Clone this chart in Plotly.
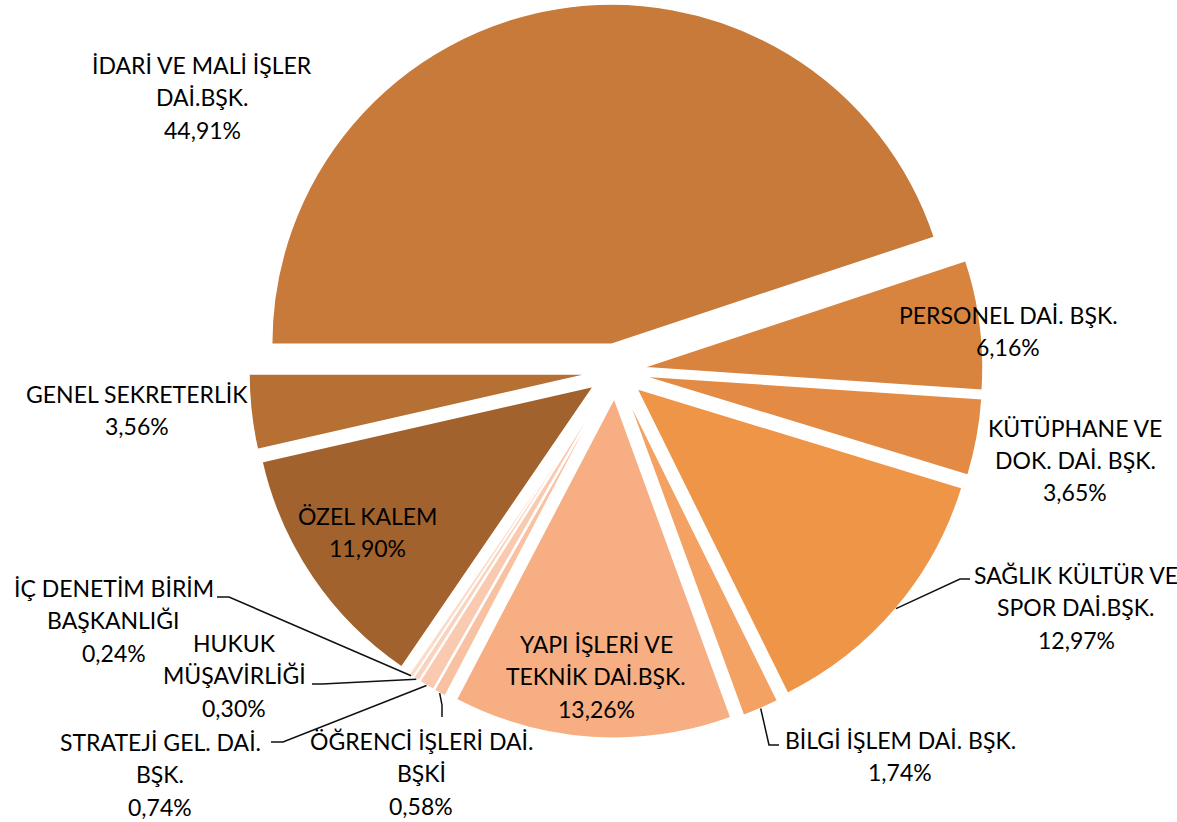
import math
import plotly.graph_objects as go

# ---------------- data ----------------
labels = [
    "İDARİ VE MALİ İŞLER DAİ.BŞK.",
    "PERSONEL DAİ. BŞK.",
    "KÜTÜPHANE VE DOK. DAİ. BŞK.",
    "SAĞLIK KÜLTÜR VE SPOR DAİ.BŞK.",
    "BİLGİ İŞLEM DAİ. BŞK.",
    "YAPI İŞLERİ VE TEKNİK DAİ.BŞK.",
    "ÖĞRENCİ İŞLERİ DAİ. BŞKİ",
    "STRATEJİ GEL. DAİ. BŞK.",
    "HUKUK MÜŞAVİRLİĞİ",
    "İÇ DENETİM BİRİM BAŞKANLIĞI",
    "ÖZEL KALEM",
    "GENEL SEKRETERLİK",
]
values = [44.91, 6.16, 3.65, 12.97, 1.74, 13.26, 0.58, 0.74, 0.30, 0.24, 11.90, 3.56]

# how each label is broken into lines in the chart
label_lines = [
    ["İDARİ VE MALİ İŞLER", "DAİ.BŞK."],
    ["PERSONEL DAİ. BŞK."],
    ["KÜTÜPHANE VE", "DOK. DAİ. BŞK."],
    ["SAĞLIK KÜLTÜR VE", "SPOR DAİ.BŞK."],
    ["BİLGİ İŞLEM DAİ. BŞK."],
    ["YAPI İŞLERİ VE", "TEKNİK DAİ.BŞK."],
    ["ÖĞRENCİ İŞLERİ DAİ.", "BŞKİ"],
    ["STRATEJİ GEL. DAİ.", "BŞK."],
    ["HUKUK", "MÜŞAVİRLİĞİ"],
    ["İÇ DENETİM BİRİM", "BAŞKANLIĞI"],
    ["ÖZEL KALEM"],
    ["GENEL SEKRETERLİK"],
]

colors = ["#C77A3A", "#D8843F", "#E38B45", "#EF9548", "#F4A263", "#F6AE82",
          "#F8C1A2", "#F9CAB0", "#FAD3BE", "#FBDCCB", "#A2622D", "#B67034"]

# ---------------- layout (pixels) ----------------
W, H = 1177, 822
CX, CY = 616, 371          # pie centre
R = 340                    # pie radius
PULL = 0.08                # explosion, fraction of radius
START = 270                # clock angle where first slice starts

# label block centres (px) and leader-line elbows (px)
label_pos = [(202, 97), (1008, 331), (1075, 460), (1076, 607), (900, 756),
             (596, 676), (421, 773), (160, 774), (234, 675), (114, 620),
             (367, 532), (137, 410)]
leaders = {
    3: [(960, 579), (970, 579)],
    4: [(769, 745), (779, 745)],
    6: [(442, 705), (442, 717)],
    7: [(283, 742), (271, 742)],
    8: [(322, 684), (312, 684)],
    9: [(229, 597), (217, 597)],
}
LINE_GAP = 32.5
FONT = dict(family="Lato, 'Open Sans', sans-serif", size=23, color="#000000")


def px(x):
    return x / W


def py(y):
    return 1 - y / H


box = 2 * R * (1 + PULL)
domain_x = [(CX - box / 2) / W, (CX + box / 2) / W]
domain_y = [1 - (CY + box / 2) / H, 1 - (CY - box / 2) / H]

fig = go.Figure(go.Pie(
    labels=labels,
    values=values,
    sort=False,
    direction="clockwise",
    rotation=START,
    pull=[PULL] * len(values),
    marker=dict(colors=colors, line=dict(color="white", width=1.5)),
    textinfo="none",
    hoverinfo="label+percent",
    domain=dict(x=domain_x, y=domain_y),
    showlegend=False,
))

annotations = []
shapes = []
total = sum(values)
cum = 0.0
for i, (v, lines) in enumerate(zip(values, label_lines)):
    a0 = START + 360 * cum / total
    cum += v
    a1 = START + 360 * cum / total
    mid = math.radians((a0 + a1) / 2)
    # text lines
    all_lines = lines + [f"{v:.2f}".replace(".", ",") + "%"]
    lx, ly = label_pos[i]
    n = len(all_lines)
    for k, t in enumerate(all_lines):
        yk = ly + (k - (n - 1) / 2) * LINE_GAP
        annotations.append(dict(x=px(lx), y=py(yk), xref="paper", yref="paper",
                                text=t, showarrow=False, font=FONT,
                                xanchor="center", yanchor="middle"))
    # leader line from slice edge
    if i in leaders:
        dist = R * (1 + PULL)
        sx = CX + dist * math.sin(mid)
        sy = CY - dist * math.cos(mid)
        pts = [(sx, sy)] + leaders[i]
        path = "M " + " L ".join(f"{px(a):.5f},{py(b):.5f}" for a, b in pts)
        shapes.append(dict(type="path", path=path, xref="paper", yref="paper",
                           line=dict(color="#111111", width=1.5)))

fig.update_layout(
    width=W, height=H,
    margin=dict(l=0, r=0, t=0, b=0),
    paper_bgcolor="white",
    plot_bgcolor="white",
    annotations=annotations,
    shapes=shapes,
)

fig.write_html("out.html", config={"displayModeBar": False},
               post_script="document.body.style.margin='0';")
